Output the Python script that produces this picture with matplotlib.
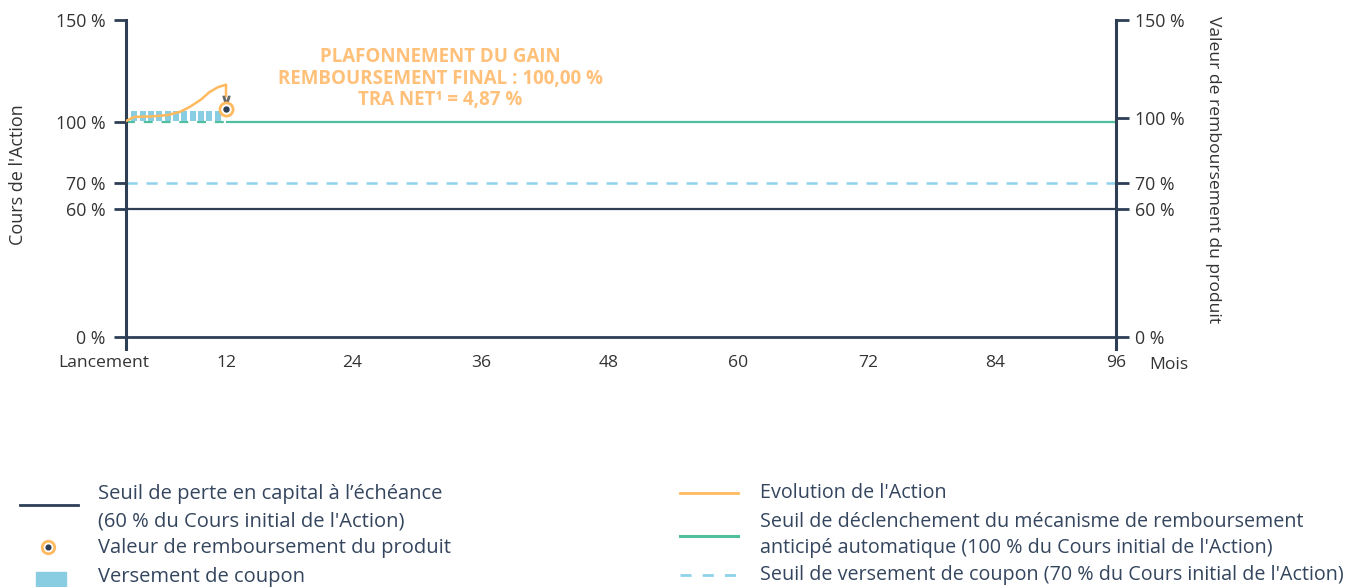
import numpy as np
import matplotlib.pyplot as plt
import matplotlib.transforms as mtrans

plt.rcParams["font.family"] = ["Open Sans", "DejaVu Sans"]

# --- data -------------------------------------------------------------------
mois_ticks = [0, 12, 24, 36, 48, 60, 72, 84, 96]
mois_labels = ["Lancement", "12", "24", "36", "48", "60", "72", "84", "96"]
niveaux = [0, 60, 70, 100, 150]
niveaux_labels = ["0 %", "60 %", "70 %", "100 %", "150 %"]

# Evolution de l'Action (% du Cours initial)
action_mois = [0, 1, 3, 5, 6.5, 7.7, 9, 10, 11, 12, 12]
action_val = [100.5, 102.5, 102.7, 103.4, 105, 107.5, 111, 114.6, 117, 118.3, 112.7]

coupon_mois = [1, 2, 3, 4, 5, 6, 7, 8, 9, 10, 11]
coupon_base = 100.5
coupon_haut = 5.0

seuil_perte = 60
seuil_coupon = 70
seuil_rappel = 100
date_rappel = 12
horizon = 96
valeur_remb = 106.4     # position du rond sur le graphe

texte_gain = "PLAFONNEMENT DU GAIN\nREMBOURSEMENT FINAL : 100,00 %\nTRA NET\u00b9 = 4,87 %"

# --- colours ----------------------------------------------------------------
NAVY = "#2d3e55"
GREEN = "#4fbf9e"
ORANGE = "#ffb95e"
BLUE = "#88cde1"
DBLUE = "#8fd3ea"
TXT = "#333333"
LEG = "#34455e"

# the schematic axes are not linear: piecewise scales (value -> pixel)
X_KNOTS = ([0, 12, 24, 36, 48, 60, 72, 84, 96],
           [126, 226, 352, 481, 609, 738, 868, 995, 1116])
YL_KNOTS = ([-6, 0, 60, 70, 100, 150], [349, 337, 209, 183, 122, 20])
YR_KNOTS = ([-6, 0, 60, 70, 100, 150], [349, 337, 209, 183, 118, 20])


def piecewise(vals, px, flip=False):
    v = np.asarray(vals, float)
    t = -np.asarray(px, float) if flip else np.asarray(px, float)
    return (lambda a: np.interp(a, v, t), lambda b: np.interp(b, t, v))


W, H = 1366, 587
fig = plt.figure(figsize=(W / 100, H / 100), dpi=100)
ax = fig.add_axes([126 / W, 1 - 349 / H, 990 / W, 329 / H])
ax.set_xscale("function", functions=piecewise(*X_KNOTS))
ax.set_yscale("function", functions=piecewise(*YL_KNOTS, flip=True))
ax.set_xlim(0, horizon)
ax.set_ylim(-6, 150)

# threshold lines
ax.hlines(0, 0, horizon, color=NAVY, lw=2, zorder=2)
ax.hlines(seuil_perte, 0, horizon, color=NAVY, lw=1.6, zorder=2)
ax.hlines(seuil_coupon, 0, horizon, color=DBLUE, lw=1.8, linestyles=(0, (4.5, 3.5)), zorder=2)
ax.hlines(seuil_rappel, 0, date_rappel, color=GREEN, lw=1.6, linestyles=(0, (4, 4)), zorder=2)
ax.hlines(seuil_rappel, date_rappel, horizon, color=GREEN, lw=1.6, zorder=2)

# coupons
ax.bar(coupon_mois, coupon_haut, bottom=coupon_base, width=0.72, color=BLUE, zorder=3)

# Action
ax.plot(action_mois, action_val, color=ORANGE, lw=1.8, zorder=4)
ax.plot(date_rappel, 110.8, marker=r"$\vee$", ms=6, color="#666666", zorder=5)
ax.plot(date_rappel, valeur_remb, "o", ms=9.5, mfc="white", mec=ORANGE, mew=2, zorder=5)
ax.plot(date_rappel, valeur_remb, "o", ms=3.6, color=NAVY, zorder=6)

for s in ("top", "bottom", "right"):
    ax.spines[s].set_visible(False)
ax.spines["left"].set_color(NAVY)
ax.spines["left"].set_linewidth(2.2)

ax.set_xticks(mois_ticks, mois_labels)
ax.tick_params(axis="x", length=0, pad=4, labelsize=12.6, labelcolor=TXT)
ax.set_yticks(niveaux, niveaux_labels)
ax.tick_params(axis="y", length=9, width=2, color=NAVY, pad=6, labelsize=12.8, labelcolor=TXT)
lab0 = ax.get_xticklabels()[0]
lab0.set_horizontalalignment("right")
lab0.set_transform(lab0.get_transform() + mtrans.ScaledTranslation(0.23, 0, fig.dpi_scale_trans))

ax2 = ax.twinx()
ax2.set_yscale("function", functions=piecewise(*YR_KNOTS, flip=True))
ax2.set_ylim(-6, 150)
for s in ("top", "bottom", "left"):
    ax2.spines[s].set_visible(False)
ax2.spines["right"].set_color(NAVY)
ax2.spines["right"].set_linewidth(2.2)
ax2.set_yticks(niveaux, niveaux_labels)
ax2.tick_params(axis="y", length=9, width=2, color=NAVY, pad=5, labelsize=12.8, labelcolor=TXT)

fig.text(1169 / W, 1 - 365 / H, "Mois", ha="center", va="center", fontsize=12.6, color=TXT)
fig.text(18 / W, 1 - 175 / H, "Cours de l'Action", rotation=90, ha="center", va="center",
         fontsize=13, color=TXT)
fig.text(1213 / W, 1 - 170 / H, "Valeur de remboursement du produit", rotation=-90,
         ha="center", va="center", fontsize=12.6, color=TXT)
fig.text(440 / W, 1 - 79 / H, texte_gain, ha="center", va="center", fontsize=13.5,
         fontweight="bold", color="#ffc07a", linespacing=1.1)

# --- legend (pixel overlay) -------------------------------------------------
lg = fig.add_axes([0, 0, 1, 1])
lg.set_xlim(0, W)
lg.set_ylim(H, 0)
lg.axis("off")
lg.plot([20, 78], [505, 505], color=NAVY, lw=2)
lg.plot(48, 547, "o", ms=9, mfc="white", mec=ORANGE, mew=2)
lg.plot(48, 547, "o", ms=3.4, color=NAVY)
lg.add_patch(plt.Rectangle((36, 572), 30, 16, color=BLUE))
lg.text(98, 494, "Seuil de perte en capital à l\u2019échéance", va="center", fontsize=14.5, color=LEG)
lg.text(98, 522, "(60 % du Cours initial de l'Action)", va="center", fontsize=14.5, color=LEG)
lg.text(98, 548, "Valeur de remboursement du produit", va="center", fontsize=14.5, color=LEG)
lg.text(98, 577, "Versement de coupon", va="center", fontsize=14.5, color=LEG)

lg.plot([680, 738], [493, 493], color=ORANGE, lw=2)
lg.plot([680, 738], [536, 536], color=GREEN, lw=2.2)
lg.plot([680, 738], [575, 575], color=DBLUE, lw=2, dashes=(4, 4))
lg.text(760, 493, "Evolution de l'Action", va="center", fontsize=14.2, color=LEG)
lg.text(760, 522, "Seuil de déclenchement du mécanisme de remboursement", va="center",
        fontsize=14.2, color=LEG)
lg.text(760, 548, "anticipé automatique (100 % du Cours initial de l'Action)", va="center",
        fontsize=14.2, color=LEG)
lg.text(760, 575, "Seuil de versement de coupon (70 % du Cours initial de l'Action)",
        va="center", fontsize=14.2, color=LEG)

fig.savefig("out.png", dpi=100)
